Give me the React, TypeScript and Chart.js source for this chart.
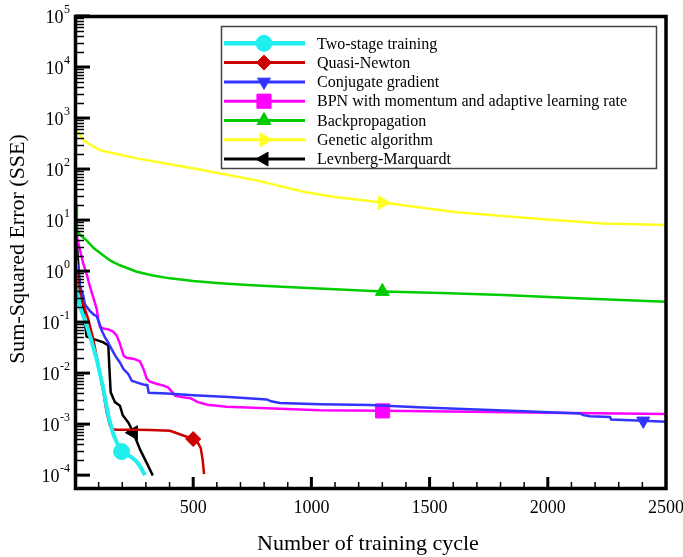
import React, { useEffect, useRef } from 'react';
import { Chart, registerables } from 'chart.js';
import { drawPoint } from 'chart.js/helpers';

Chart.register(...registerables);

// ---- Axis definitions ----
const cycleMin = 0;
const cycleMax = 2500;
const cycleTickLabels = [500, 1000, 1500, 2000, 2500];
const sseMin = 5.6e-5;
const sseMax = 1e5;
const decadeExponents = [-4, -3, -2, -1, 0, 1, 2, 3, 4, 5];

// ---- Series: training cycle vs. sum-squared error ----
const seriesLabels = [
  'Two-stage training',
  'Quasi-Newton',
  'Conjugate gradient',
  'BPN with momentum and adaptive learning rate',
  'Backpropagation',
  'Genetic algorithm',
  'Levnberg-Marquardt',
];

const twoStageX = [0, 4, 7, 14, 21, 42, 63, 92, 120, 141, 162, 183, 197, 220, 240, 260, 275, 296];
const twoStageY = [1.6, 0.6, 0.39, 0.32, 0.2, 0.107, 0.054, 0.0186, 0.0049, 0.00145, 0.00063, 0.00038, 0.00029, 0.00025, 0.000224, 0.000186, 0.00015, 0.0001];

const quasiNewtonX = [0, 3, 7, 14, 21, 28, 56, 77, 99, 120, 134, 148, 160, 175, 261, 317, 402, 458, 500, 520, 532, 540, 546];
const quasiNewtonY = [2000, 5, 1.2, 0.6, 0.39, 0.28, 0.115, 0.047, 0.0138, 0.0042, 0.0017, 0.00093, 0.00079, 0.00078, 0.00078, 0.00077, 0.00074, 0.0006, 0.00051, 0.00043, 0.00034, 0.0002, 0.000105];

const conjugateX = [0, 7, 14, 21, 35, 42, 63, 80, 92, 105, 113, 127, 140, 155, 170, 190, 205, 226, 240, 260, 289, 306, 312, 388, 500, 650, 811, 830, 867, 1036, 1248, 1450, 1671, 1900, 2136, 2150, 2178, 2263, 2268, 2404, 2500];
const conjugateY = [20, 1.4, 1.2, 0.51, 0.33, 0.22, 0.166, 0.14, 0.13, 0.09, 0.068, 0.05, 0.04, 0.0295, 0.022, 0.0162, 0.012, 0.0095, 0.0071, 0.0066, 0.006, 0.0058, 0.0041, 0.004, 0.0037, 0.0034, 0.00305, 0.0028, 0.0026, 0.00246, 0.00236, 0.00215, 0.00195, 0.00178, 0.00162, 0.0015, 0.00143, 0.00138, 0.00123, 0.00116, 0.00111];

const bpnX = [0, 7, 21, 35, 50, 63, 78, 92, 100, 106, 120, 140, 160, 176, 188, 197, 206, 218, 250, 275, 290, 303, 317, 345, 374, 395, 410, 425, 450, 490, 520, 560, 642, 867, 1036, 1301, 1671, 2000, 2500];
const bpnY = [20, 5, 2.6, 1.4, 0.85, 0.5, 0.3, 0.18, 0.1, 0.08, 0.075, 0.072, 0.066, 0.055, 0.04, 0.03, 0.022, 0.02, 0.019, 0.017, 0.012, 0.0078, 0.0068, 0.0062, 0.0057, 0.0052, 0.0043, 0.0036, 0.0034, 0.0032, 0.0027, 0.0024, 0.0022, 0.002, 0.00187, 0.00182, 0.00174, 0.00168, 0.00158];

const backpropX = [0, 5, 8, 20, 49, 80, 119, 150, 190, 261, 330, 402, 500, 613, 750, 895, 1100, 1300, 1550, 1811, 2150, 2500];
const backpropY = [3000, 20, 6.3, 5.2, 4.0, 2.8, 2.05, 1.6, 1.3, 0.97, 0.82, 0.72, 0.64, 0.58, 0.53, 0.49, 0.44, 0.4, 0.37, 0.34, 0.29, 0.25];

const geneticX = [0, 3, 7, 35, 70, 92, 110, 162, 261, 374, 543, 768, 966, 1107, 1300, 1614, 1953, 2235, 2500];
const geneticY = [1200, 700, 580, 370, 290, 255, 230, 204, 162, 131, 95, 60, 36, 28, 22, 14.3, 10.6, 8.6, 8.0];

const levenbergX = [0, 10, 21, 35, 42, 49, 77, 120, 141, 145, 151, 169, 190, 202, 226, 247, 275, 310, 329];
const levenbergY = [20, 2.5, 0.43, 0.2, 0.095, 0.052, 0.047, 0.04, 0.035, 0.014, 0.0042, 0.0027, 0.0023, 0.0015, 0.00107, 0.00068, 0.00032, 0.00015, 0.0000985];

// Cycle at which each series shows its marker
const markerCycles = [197, 500, 2404, 1301, 1300, 1300, 247];

const seriesX = [twoStageX, quasiNewtonX, conjugateX, bpnX, backpropX, geneticX, levenbergX];
const seriesY = [twoStageY, quasiNewtonY, conjugateY, bpnY, backpropY, geneticY, levenbergY];

// ---- Styles ----
const seriesColors = ['#22EEEE', '#CC0000', '#3333FF', '#FF00FF', '#00CC00', '#FFFF22', '#000000'];
const seriesWidths = [4, 2.5, 2.5, 2.5, 2.5, 2.5, 2.5];
const markerStyles = ['circle', 'rectRot', 'triangle', 'rect', 'triangle', 'triangle', 'triangle'];
const markerRotations = [0, 0, 180, 0, 0, 90, 270];
const markerRadii = [8, 7.5, 7.5, 10, 8, 8, 8];

const FONT = '"Liberation Serif", "Times New Roman", serif';

const axisDecor = {
  id: 'axisDecor',
  afterDatasetsDraw(chart: any) {
    const { ctx, chartArea } = chart;
    const xs = chart.scales.x;
    const ys = chart.scales.y;
    const { left, top, right, bottom } = chartArea;
    ctx.save();
    ctx.strokeStyle = '#000';
    ctx.lineCap = 'butt';

    // minor y ticks
    ctx.lineWidth = 1.5;
    for (let e = -4; e < 5; e++) {
      for (let m = 2; m <= 9; m++) {
        const py = Math.round(ys.getPixelForValue(m * Math.pow(10, e))) + 0.5;
        ctx.beginPath();
        ctx.moveTo(left, py);
        ctx.lineTo(left + 9, py);
        ctx.stroke();
      }
    }
    // major y ticks
    ctx.lineWidth = 3;
    decadeExponents.forEach((e) => {
      const py = ys.getPixelForValue(Math.pow(10, e));
      ctx.beginPath();
      ctx.moveTo(left, py);
      ctx.lineTo(left + 15, py);
      ctx.stroke();
    });
    // x ticks
    for (let v = 100; v < cycleMax; v += 100) {
      const px = xs.getPixelForValue(v);
      const major = v % 500 === 0;
      ctx.lineWidth = major ? 3 : 1.5;
      ctx.beginPath();
      ctx.moveTo(px, bottom);
      ctx.lineTo(px, bottom - (major ? 11 : 6));
      ctx.stroke();
    }

    // frame
    ctx.lineWidth = 3.5;
    ctx.beginPath();
    ctx.moveTo(left + 0.5, top + 0.5);
    ctx.lineTo(right, top + 0.5);
    ctx.lineTo(right, bottom + 0.5);
    ctx.lineTo(left + 0.5, bottom + 0.5);
    ctx.closePath();
    ctx.stroke();
    ctx.restore();
  },
  afterDraw(chart: any) {
    const { ctx, chartArea } = chart;
    const xs = chart.scales.x;
    const ys = chart.scales.y;
    ctx.save();
    ctx.fillStyle = '#000';

    // y tick labels: 10 with superscript exponent
    decadeExponents.forEach((e) => {
      const py = ys.getPixelForValue(Math.pow(10, e));
      const exp = e < 0 ? '-' + String(-e) : String(e);
      ctx.font = `12px ${FONT}`;
      const ew = ctx.measureText(exp).width;
      const rightEdge = 70;
      ctx.textBaseline = 'middle';
      ctx.textAlign = 'left';
      ctx.fillText(exp, rightEdge - ew, py - 6);
      ctx.font = `18px ${FONT}`;
      ctx.textAlign = 'right';
      ctx.fillText('10', rightEdge - ew - 0.5, py + 2);
    });

    // x tick labels
    ctx.font = `18px ${FONT}`;
    ctx.textAlign = 'center';
    ctx.textBaseline = 'middle';
    cycleTickLabels.forEach((v) => {
      ctx.fillText(String(v), xs.getPixelForValue(v), chartArea.bottom + 20);
    });

    // axis titles
    ctx.font = `22px ${FONT}`;
    ctx.fillText('Number of training cycle', 368, 544);
    ctx.save();
    ctx.translate(18, 249);
    ctx.rotate(-Math.PI / 2);
    ctx.fillText('Sum-Squared Error (SSE)', 0, 0);
    ctx.restore();

    // legend
    const bx = 221.5, by = 26.5, bw = 435, bh = 142;
    ctx.fillStyle = '#fff';
    ctx.fillRect(bx, by, bw, bh);
    ctx.strokeStyle = '#444';
    ctx.lineWidth = 1.5;
    ctx.strokeRect(bx, by, bw, bh);
    seriesLabels.forEach((label, i) => {
      const ry = 43.3 + i * 19.3;
      ctx.strokeStyle = seriesColors[i];
      ctx.lineWidth = seriesWidths[i] + 0.5;
      ctx.beginPath();
      ctx.moveTo(224, ry);
      ctx.lineTo(305, ry);
      ctx.stroke();
      ctx.fillStyle = seriesColors[i];
      ctx.strokeStyle = seriesColors[i];
      ctx.lineWidth = 1;
      drawPoint(ctx, { pointStyle: markerStyles[i], rotation: markerRotations[i], radius: markerRadii[i], borderWidth: 1 } as any, 264, ry);
      ctx.fillStyle = '#000';
      ctx.font = `16px ${FONT}`;
      ctx.textAlign = 'left';
      ctx.textBaseline = 'middle';
      ctx.fillText(label, 317, ry + 1);
    });
    ctx.restore();
  },
};

export default function App() {
  const canvasRef = useRef<HTMLCanvasElement | null>(null);

  useEffect(() => {
    const canvas = canvasRef.current;
    if (!canvas) return;
    const datasets = seriesLabels.map((label, i) => ({
      label,
      data: seriesX[i].map((x, k) => ({ x, y: seriesY[i][k] })),
      borderColor: seriesColors[i],
      backgroundColor: seriesColors[i],
      borderWidth: seriesWidths[i],
      tension: 0,
      fill: false,
      pointStyle: markerStyles[i] as any,
      pointRotation: markerRotations[i],
      pointRadius: (c: any) => (c.raw && c.raw.x === markerCycles[i] ? markerRadii[i] : 0),
      pointHoverRadius: 0,
      pointBorderWidth: 1,
      pointBorderColor: seriesColors[i],
      pointBackgroundColor: seriesColors[i],
    }));

    const chart = new Chart(canvas, {
      type: 'line',
      data: { datasets },
      options: {
        responsive: false,
        animation: false,
        devicePixelRatio: 1,
        layout: { padding: { left: 75, top: 16, right: 17, bottom: 69 } },
        plugins: { legend: { display: false }, tooltip: { enabled: false } },
        events: [],
        scales: {
          x: { type: 'linear', min: cycleMin, max: cycleMax, display: false },
          y: { type: 'logarithmic', min: sseMin, max: sseMax, display: false },
        },
      },
      plugins: [axisDecor],
    });
    return () => chart.destroy();
  }, []);

  return (
    <div style={{ position: 'fixed', left: 0, top: 0, width: 683, height: 557, background: '#fff' }}>
      <canvas ref={canvasRef} width={683} height={557} style={{ display: 'block' }} />
    </div>
  );
}
